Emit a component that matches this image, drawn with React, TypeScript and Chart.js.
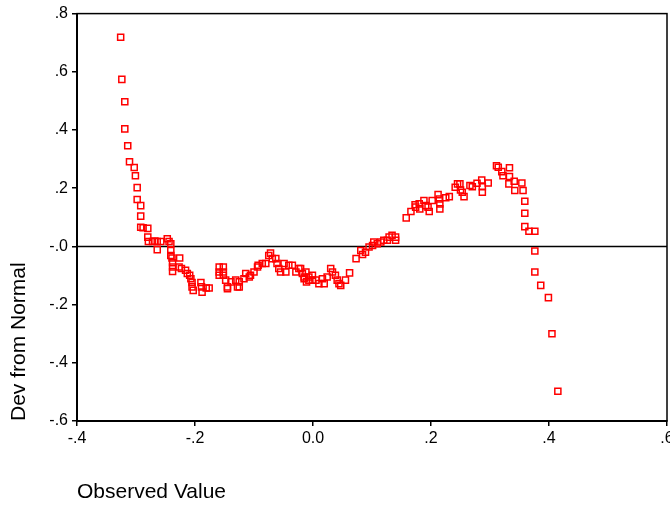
import React, { useEffect, useRef } from "react";
import { Chart, registerables } from "chart.js";

Chart.register(...registerables);

const observed = [
  -0.326, -0.324, -0.319, -0.319, -0.314, -0.311, -0.303, -0.301, -0.298, -0.298,
  -0.292, -0.292, -0.292, -0.288, -0.28, -0.28, -0.279, -0.272, -0.268, -0.264,
  -0.264, -0.258, -0.247, -0.244, -0.241, -0.241, -0.241, -0.239, -0.238, -0.238,
  -0.238, -0.226, -0.227, -0.223, -0.216, -0.213, -0.209, -0.207, -0.205, -0.205,
  -0.203, -0.19, -0.189, -0.188, -0.181, -0.176, -0.159, -0.159, -0.159, -0.152,
  -0.152, -0.152, -0.148, -0.145, -0.145, -0.139, -0.131, -0.128, -0.125, -0.125,
  -0.117, -0.114, -0.108, -0.106, -0.1, -0.094, -0.093, -0.086, -0.08, -0.075,
  -0.072, -0.069, -0.063, -0.061, -0.058, -0.055, -0.049, -0.046, -0.041, -0.035,
  -0.029, -0.024, -0.021, -0.018, -0.015, -0.015, -0.012, -0.011, -0.007, -0.007,
  -0.001, -0.001, 0.005, 0.01, 0.016, 0.019, 0.024, 0.03, 0.033, 0.038,
  0.041, 0.044, 0.047, 0.055, 0.062, 0.073, 0.081, 0.084, 0.089, 0.095,
  0.101, 0.103, 0.109, 0.115, 0.12, 0.126, 0.129, 0.134, 0.14, 0.14,
  0.158, 0.166, 0.173, 0.174, 0.18, 0.181, 0.188, 0.191, 0.195, 0.197,
  0.202, 0.212, 0.214, 0.215, 0.215, 0.225, 0.231, 0.241, 0.245, 0.249,
  0.25, 0.253, 0.256, 0.266, 0.27, 0.278, 0.286, 0.287, 0.287, 0.297,
  0.311, 0.314, 0.32, 0.322, 0.333, 0.333, 0.332, 0.341, 0.342, 0.354,
  0.356, 0.359, 0.359, 0.359, 0.366, 0.376, 0.376, 0.376, 0.386, 0.399,
  0.405, 0.415,
];

const deviation = [
  0.719, 0.574, 0.497, 0.404, 0.346, 0.291, 0.271, 0.243, 0.202, 0.161,
  0.14, 0.104, 0.066, 0.064, 0.062, 0.032, 0.017, 0.017, 0.018, -0.011,
  0.017, 0.017, 0.026, 0.017, 0.009, -0.014, -0.031, -0.04, -0.056, -0.071,
  -0.086, -0.04, -0.071, -0.076, -0.082, -0.093, -0.099, -0.111, -0.124, -0.139,
  -0.151, -0.124, -0.139, -0.157, -0.143, -0.143, -0.071, -0.088, -0.099, -0.071,
  -0.088, -0.099, -0.116, -0.139, -0.145, -0.122, -0.116, -0.139, -0.122, -0.139,
  -0.111, -0.093, -0.105, -0.099, -0.088, -0.071, -0.065, -0.059, -0.059, -0.031,
  -0.023, -0.042, -0.042, -0.059, -0.076, -0.088, -0.059, -0.088, -0.065, -0.065,
  -0.088, -0.076, -0.076, -0.093, -0.105, -0.111, -0.088, -0.122, -0.105, -0.116,
  -0.099, -0.116, -0.116, -0.128, -0.111, -0.128, -0.105, -0.076, -0.088, -0.099,
  -0.116, -0.128, -0.134, -0.116, -0.091, -0.042, -0.014, -0.028, -0.02, -0.002,
  0.003, 0.015, 0.009, 0.015, 0.021, 0.021, 0.032, 0.038, 0.032, 0.021,
  0.098, 0.12, 0.143, 0.135, 0.146, 0.129, 0.158, 0.14, 0.135, 0.12,
  0.158, 0.178, 0.163, 0.146, 0.129, 0.167, 0.171, 0.203, 0.215, 0.215,
  0.194, 0.186, 0.171, 0.209, 0.205, 0.217, 0.228, 0.205, 0.186, 0.218,
  0.277, 0.272, 0.257, 0.243, 0.27, 0.24, 0.215, 0.224, 0.192, 0.218,
  0.192, 0.155, 0.114, 0.068, 0.052, 0.052, -0.016, -0.088, -0.134, -0.176,
  -0.3, -0.498,
];

const zeroLineX = [-0.4, 0.6];
const xTickValues = [-0.4, -0.2, 0, 0.2, 0.4, 0.6];
const xTickLabels = ["-.4", "-.2", "0.0", ".2", ".4", ".6"];
const yTickValues = [-0.6, -0.4, -0.2, 0, 0.2, 0.4, 0.6, 0.8];
const yTickLabels = ["-.6", "-.4", "-.2", "-.0", ".2", ".4", ".6", ".8"];

const FONT = "'Liberation Sans', Arial, Helvetica, sans-serif";

function labelFor(values: number[], labels: string[], v: number) {
  const i = values.findIndex((t) => Math.abs(t - v) < 1e-6);
  return i >= 0 ? labels[i] : "";
}

const framePlugin = {
  id: "frame",
  afterDatasetsDraw(chart: any) {
    const { ctx, chartArea } = chart;
    const { left, top, right, bottom } = chartArea;
    ctx.save();
    ctx.strokeStyle = "#000";
    ctx.lineWidth = 1.5;
    ctx.strokeRect(left, top, right - left, bottom - top);
    ctx.restore();
  },
};

export default function App() {
  const ref = useRef<HTMLCanvasElement | null>(null);

  useEffect(() => {
    if (!ref.current) return;
    const points = observed.map((x, i) => ({ x, y: deviation[i] }));
    const chart = new Chart(ref.current, {
      type: "scatter",
      data: {
        datasets: [
          {
            data: points,
            pointStyle: "rect",
            pointRadius: 4.3,
            borderWidth: 1.5,
            borderColor: "#ff0000",
            backgroundColor: "rgba(0,0,0,0)",
          },
          {
            data: zeroLineX.map((x) => ({ x, y: 0 })),
            showLine: true,
            pointRadius: 0,
            borderColor: "#000",
            borderWidth: 1.5,
          },
        ],
      },
      options: {
        responsive: false,
        animation: false,
        devicePixelRatio: 1,
        events: [],
        layout: { padding: { top: 3, right: 33, bottom: 0, left: 0 } },
        plugins: {
          legend: { display: false },
          tooltip: { enabled: false },
          title: { display: false },
        },
        scales: {
          x: {
            type: "linear",
            min: -0.4,
            max: 0.6,
            afterBuildTicks: (scale: any) => {
              scale.ticks = xTickValues.map((value) => ({ value }));
            },
            afterFit: (scale: any) => {
              scale.height = 87;
            },
            ticks: {
              color: "#000",
              font: { family: FONT, size: 16 },
              padding: 3,
              maxRotation: 0,
              callback: (v: any) => labelFor(xTickValues, xTickLabels, Number(v)),
            },
            grid: {
              drawOnChartArea: false,
              drawTicks: true,
              tickLength: 5,
              color: "#000",
              lineWidth: 1.5,
            },
            border: { display: true, color: "#000", width: 2 },
            title: {
              display: true,
              text: "Observed Value",
              align: "start",
              color: "#000",
              font: { family: FONT, size: 21 },
              padding: { top: 0, bottom: 3 },
            },
          },
          y: {
            type: "linear",
            min: -0.6,
            max: 0.8,
            afterBuildTicks: (scale: any) => {
              scale.ticks = yTickValues.map((value) => ({ value }));
            },
            afterFit: (scale: any) => {
              scale.width = 77;
            },
            ticks: {
              color: "#000",
              font: { family: FONT, size: 16 },
              padding: 4,
              callback: (v: any) => labelFor(yTickValues, yTickLabels, Number(v)),
            },
            grid: {
              drawOnChartArea: false,
              drawTicks: true,
              tickLength: 5,
              color: "#000",
              lineWidth: 1.5,
            },
            border: { display: true, color: "#000", width: 2 },
            title: {
              display: true,
              text: "Dev from Normal",
              align: "start",
              color: "#000",
              font: { family: FONT, size: 21 },
              padding: { top: 7, bottom: 0 },
            },
          },
        },
      },
      plugins: [framePlugin],
    } as any);
    return () => chart.destroy();
  }, []);

  return (
    <div
      style={{
        position: "absolute",
        left: 0,
        top: 0,
        width: 670,
        height: 508,
        overflow: "hidden",
        background: "#fff",
      }}
    >
      <canvas ref={ref} width={700} height={508} style={{ display: "block" }} />
    </div>
  );
}
